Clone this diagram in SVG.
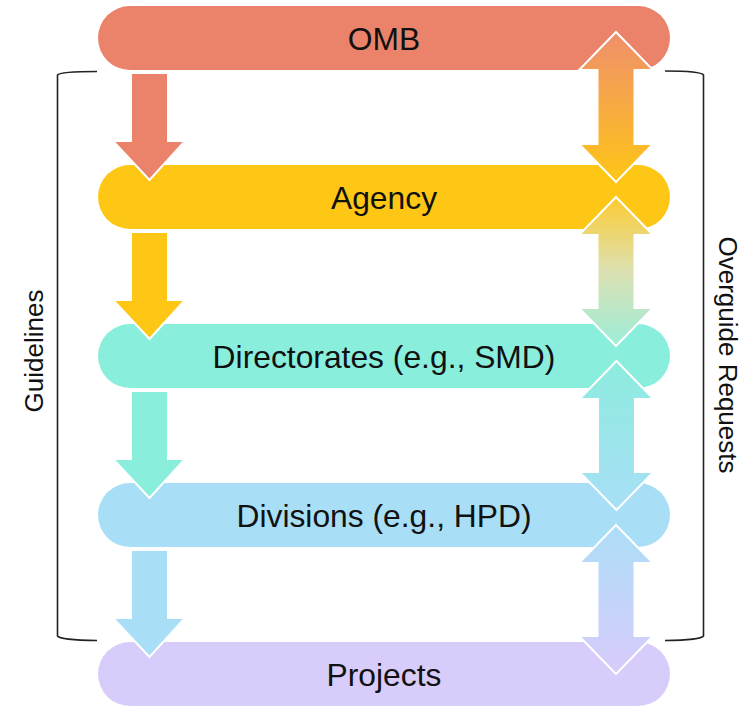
<svg xmlns="http://www.w3.org/2000/svg" width="749" height="706" viewBox="0 0 749 706">
<style>
.lbl{font-family:"Liberation Sans",Arial,sans-serif;font-size:31.8px;fill:#111;text-anchor:middle}
.side{font-family:"Liberation Sans",Arial,sans-serif;font-size:26px;fill:#111;text-anchor:middle}
.arr{stroke:#fff;stroke-width:2;stroke-linejoin:miter}
.brk{fill:none;stroke:#222;stroke-width:1.6}
</style>
<defs>
<linearGradient id="g1" x1="0" y1="0" x2="0" y2="1"><stop offset="0" stop-color="#EF8F6C"/><stop offset="1" stop-color="#FFC616"/></linearGradient>
<linearGradient id="g2" x1="0" y1="0" x2="0" y2="1"><stop offset="0" stop-color="#FDCB33"/><stop offset="0.5" stop-color="#DCE1B2"/><stop offset="1" stop-color="#9CEDD9"/></linearGradient>
<linearGradient id="g3" x1="0" y1="0" x2="0" y2="1"><stop offset="0" stop-color="#8DECDE"/><stop offset="1" stop-color="#A8DFF6"/></linearGradient>
<linearGradient id="g4" x1="0" y1="0" x2="0" y2="1"><stop offset="0" stop-color="#ACDEF7"/><stop offset="1" stop-color="#D8CBFB"/></linearGradient>
</defs>
<g id="omb"><rect x="98" y="6" width="572" height="64" rx="32" fill="#EB836A"/><text class="lbl" x="384" y="50">OMB</text></g>
<g id="agency"><rect x="98" y="165" width="572" height="64" rx="32" fill="#FEC716"/><text class="lbl" x="384" y="209">Agency</text></g>
<g id="directorates"><rect x="98" y="324" width="572" height="64" rx="32" fill="#8AEEDD"/><text class="lbl" x="384" y="368">Directorates (e.g., SMD)</text></g>
<g id="divisions"><rect x="98" y="483" width="572" height="64" rx="32" fill="#A8DFF7"/><text class="lbl" x="384" y="527">Divisions (e.g., HPD)</text></g>
<g id="projects"><rect x="98" y="642" width="572" height="64" rx="32" fill="#D8CCFB"/><text class="lbl" x="384" y="686">Projects</text></g>
<g id="connectors">
<path class="arr" fill="#EB836A" d="M131,73 H168 V141 H185 L149.5,180 L113,141 H131 Z"/>
<path class="arr" fill="#FEC716" d="M131,232 H168 V300 H185 L149.5,339 L113,300 H131 Z"/>
<path class="arr" fill="#8AEEDD" d="M131,391 H168 V459 H185 L149.5,498 L113,459 H131 Z"/>
<path class="arr" fill="#A8DFF7" d="M131,550 H168 V618 H185 L149.5,657 L113,618 H131 Z"/>
<path class="arr" fill="url(#g1)" d="M616,32 L653,70 H634.5 V144 H653 L616,182 L579,144 H597.5 V70 H579 Z"/>
<path class="arr" fill="url(#g2)" d="M616,197 L653,235 H634.5 V308 H653 L616,346 L579,308 H597.5 V235 H579 Z"/>
<path class="arr" fill="url(#g3)" d="M616.5,361 L653.5,399 H635 V472 H653.5 L616.5,510 L579.5,472 H598 V399 H579.5 Z"/>
<path class="arr" fill="url(#g4)" d="M616,525 L653,563 H634.5 V636 H653 L616,674 L579,636 H597.5 V563 H579 Z"/>
<path class="brk" d="M97,71.5 Q60,71.5 57.5,75 V636 Q60,640 97,640.5"/>
<path class="brk" d="M665,71 Q701,71 703.5,75 V636 Q701,640 665,640.5"/>
</g>
<text class="side" transform="translate(43,351) rotate(-90)">Guidelines</text>
<text class="side" transform="translate(719,355) rotate(90)">Overguide Requests</text>
</svg>
